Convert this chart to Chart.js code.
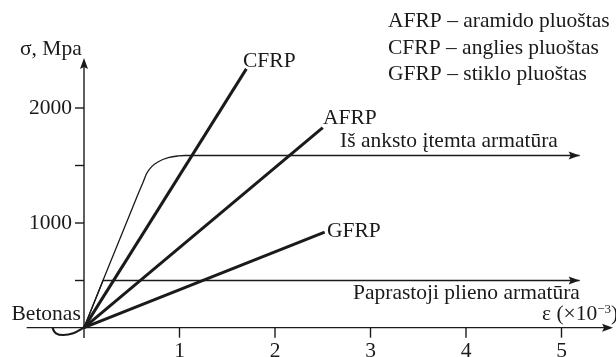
<!DOCTYPE html>
<html>
<head>
<meta charset="utf-8">
<script src="https://cdn.jsdelivr.net/npm/chart.js@4/dist/chart.umd.min.js"></script>
<style>
  html, body { margin: 0; padding: 0; background: #fff; }
  #wrap { width: 616px; height: 357px; }
</style>
</head>
<body>
<div id="wrap"><canvas id="chart" width="616" height="357"></canvas></div>
<script>
// strain in 1e-3, stress in MPa (axes cross a little above zero in the sketch)
const axisCross = 90;
const strainTicks = [1, 2, 3, 4, 5];
const stressTicks = [500, 1000, 1500, 2000];
const stressTickLabels = ['', '1000', '', '2000'];

const cfrpStrain = [0, 1.70];
const cfrpStress = [90, 2340];
const afrpStrain = [0, 2.50];
const afrpStress = [90, 1830];
const gfrpStrain = [0, 2.52];
const gfrpStress = [90, 920];

const prestressStrain = [0, 0.56, 0.621, 0.657, 0.709, 0.778, 0.883, 0.987, 1.06, 5.19];
const prestressStress = [90, 1240, 1359, 1432, 1490, 1533, 1568, 1583, 1587, 1587];
const steelStrain = [0, 0.2, 5.19];
const steelStress = [90, 500, 500];
const concreteStrain = [-0.328, -0.321, -0.293, -0.217, -0.112, 0];
const concreteStress = [93, 70, 41, 26, 41, 90];

const legendLines = [
  'AFRP \u2013 aramido plu\u006f\u0161tas',
  'CFRP \u2013 anglies plu\u006f\u0161tas',
  'GFRP \u2013 stiklo plu\u006f\u0161tas'
];

const serif = '"Liberation Serif", "Times New Roman", serif';
const fontSize = 21.5;

function toPoints(xs, ys) {
  return xs.map((x, i) => ({ x: x, y: ys[i] }));
}

function series(xs, ys, width, smooth) {
  return {
    data: toPoints(xs, ys),
    borderColor: '#1a1a1a',
    borderWidth: width,
    pointRadius: 0,
    cubicInterpolationMode: smooth ? 'monotone' : 'default',
    tension: smooth ? 0.4 : 0,
    fill: false
  };
}

function arrowHead(ctx, x, y, dir) {
  // dir: 'right' or 'up'
  ctx.beginPath();
  if (dir === 'right') {
    ctx.moveTo(x, y);
    ctx.lineTo(x - 11, y - 4);
    ctx.lineTo(x - 9, y);
    ctx.lineTo(x - 11, y + 4);
  } else {
    ctx.moveTo(x, y);
    ctx.lineTo(x - 4, y + 11);
    ctx.lineTo(x, y + 9);
    ctx.lineTo(x + 4, y + 11);
  }
  ctx.closePath();
  ctx.fill();
}

const drawingPlugin = {
  id: 'drawing',
  afterDraw(chart) {
    const ctx = chart.ctx;
    const sx = chart.scales.x;
    const sy = chart.scales.y;
    const ox = sx.getPixelForValue(0);
    const oy = sy.getPixelForValue(axisCross);

    ctx.save();
    ctx.strokeStyle = '#1a1a1a';
    ctx.fillStyle = '#1a1a1a';
    ctx.lineWidth = 1.4;

    // axes
    const xEnd = sx.getPixelForValue(5.54);
    ctx.beginPath();
    ctx.moveTo(sx.getPixelForValue(-0.6), oy);
    ctx.lineTo(xEnd - 6, oy);
    ctx.stroke();
    arrowHead(ctx, xEnd, oy, 'right');

    const yEnd = sy.getPixelForValue(2435);
    ctx.beginPath();
    ctx.moveTo(ox, sy.getPixelForValue(0));
    ctx.lineTo(ox, yEnd + 6);
    ctx.stroke();
    arrowHead(ctx, ox, yEnd, 'up');

    // ticks
    ctx.font = fontSize + 'px ' + serif;
    ctx.textBaseline = 'alphabetic';
    strainTicks.forEach(t => {
      const px = sx.getPixelForValue(t);
      ctx.beginPath();
      ctx.moveTo(px, oy);
      ctx.lineTo(px, oy + 10);
      ctx.stroke();
      ctx.textAlign = 'center';
      ctx.fillText(String(t), px, 356.5);
    });
    stressTicks.forEach((t, i) => {
      const py = sy.getPixelForValue(t);
      ctx.beginPath();
      ctx.moveTo(ox - 9, py);
      ctx.lineTo(ox, py);
      ctx.stroke();
      ctx.textAlign = 'right';
      ctx.fillText(stressTickLabels[i], ox - 12, py + 5.5);
    });

    // arrows on the steel lines
    [3, 4].forEach(i => {
      const pts = chart.getDatasetMeta(i).data;
      const last = pts[pts.length - 1];
      arrowHead(ctx, last.x, last.y, 'right');
    });

    // labels
    ctx.textAlign = 'left';
    ctx.fillText('\u03c3, Mpa', 20, 55);
    ctx.fillText('CFRP', 243, 66.5);
    ctx.fillText('AFRP', 323, 124);
    ctx.fillText('GFRP', 327, 236.5);
    ctx.fillText('I\u0161 anksto \u012ftemta armat\u016bra', 340, 146.5);
    ctx.fillText('Paprastoji plieno armat\u016bra', 353, 298.5);
    ctx.fillText('Betonas', 11.5, 320);
    legendLines.forEach((line, i) => {
      ctx.fillText(line, 388, 27.3 + i * 26.3);
    });

    // epsilon axis title with superscript
    let tx = 542;
    const ty = 319.5;
    const part1 = '\u03b5 (\u00d710';
    ctx.fillText(part1, tx, ty);
    tx += ctx.measureText(part1).width;
    ctx.font = '13px ' + serif;
    ctx.fillText('\u2212', tx, ty - 7);
    tx += ctx.measureText('\u2212').width;
    ctx.fillText('3', tx, ty - 7);
    tx += ctx.measureText('3').width;
    ctx.font = fontSize + 'px ' + serif;
    ctx.fillText(')', tx, ty);

    ctx.restore();
  }
};

new Chart(document.getElementById('chart'), {
  type: 'line',
  data: {
    datasets: [
      series(cfrpStrain, cfrpStress, 3),
      series(afrpStrain, afrpStress, 3),
      series(gfrpStrain, gfrpStress, 3),
      series(prestressStrain, prestressStress, 1.3, true),
      series(steelStrain, steelStress, 1.3),
      series(concreteStrain, concreteStress, 2.2, true)
    ]
  },
  options: {
    responsive: false,
    animation: false,
    devicePixelRatio: 1,
    layout: { padding: { left: 21.925, right: 1.975, top: 27.5, bottom: 7.5 } },
    plugins: { legend: { display: false }, tooltip: { enabled: false } },
    scales: {
      x: { type: 'linear', min: -0.65, max: 5.55, display: false },
      y: { type: 'linear', min: -100, max: 2700, display: false }
    }
  },
  plugins: [drawingPlugin]
});
</script>
</body>
</html>
